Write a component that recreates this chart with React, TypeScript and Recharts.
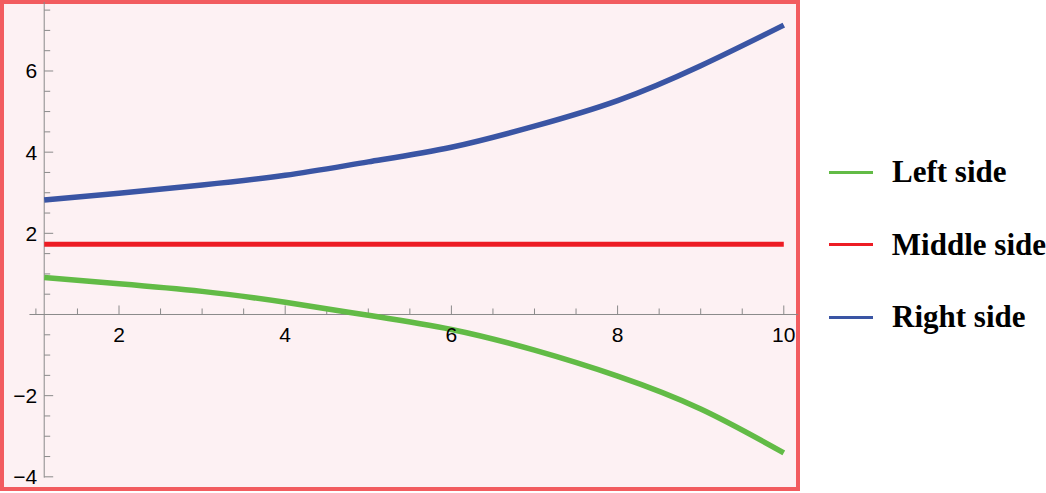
import {
  LineChart,
  Line,
  XAxis,
  YAxis,
  CartesianGrid,
  ReferenceArea,
  ReferenceLine,
  ReferenceDot,
  Legend,
} from "recharts";

// values
const xValues = [1.1, 2, 3, 4, 5, 6, 7, 8, 9, 10];
const leftSide = [0.91, 0.76, 0.57, 0.3, -0.02, -0.37, -0.88, -1.52, -2.33, -3.41];
const middleSide = [1.73, 1.73, 1.73, 1.73, 1.73, 1.73, 1.73, 1.73, 1.73, 1.73];
const rightSide = [2.82, 2.99, 3.19, 3.43, 3.76, 4.12, 4.64, 5.27, 6.13, 7.13];

const xMajorTicks = [2, 4, 6, 8, 10];
const yMajorTicks = [-4, -2, 2, 4, 6];
const xMinorTicks = Array.from({ length: 19 }, (_, i) => 1 + i * 0.5).filter(
  (v) => !xMajorTicks.includes(v)
);
const yMinorTicks = Array.from({ length: 24 }, (_, i) => -4 + i * 0.5).filter(
  (v) => v !== 0 && !yMajorTicks.includes(v)
);

const X_DOMAIN: [number, number] = [0.592, 10.171];
const Y_DOMAIN: [number, number] = [-4.3, 7.7];
const AXIS_X = 1.1;

const GREEN = "#62bb46";
const RED = "#ed1c24";
const BLUE = "#3a55a4";
const TICK = "#8a8a8a";
const FONT = "'Liberation Sans', Arial, sans-serif";

const data = xValues.map((x, i) => ({
  x,
  left: leftSide[i],
  middle: middleSide[i],
  right: rightSide[i],
}));

const fmt = (v: number) => (v < 0 ? `\u2212${Math.abs(v)}` : String(v));

type VB = { viewBox?: { x: number; y: number; width?: number; height?: number } };

const xLabel = (text: string) => (props: VB) => {
  const vb = props.viewBox;
  if (!vb) return null;
  return (
    <text x={vb.x + (vb.width ?? 0) / 2} y={vb.y + 28} textAnchor="middle" fontSize={21} fontFamily={FONT} fill="#000">
      {text}
    </text>
  );
};

const yLabel = (text: string) => (props: VB) => {
  const vb = props.viewBox;
  if (!vb) return null;
  return (
    <text x={vb.x - 7} y={vb.y + (vb.height ?? 0) / 2 + 7.5} textAnchor="end" fontSize={21} fontFamily={FONT} fill="#000">
      {text}
    </text>
  );
};

function LegendBox({ payload }: { payload?: Array<{ value: string; color: string }> }) {
  if (!payload) return null;
  return (
    <div>
      {payload.map((p) => (
        <div key={p.value} style={{ display: "flex", alignItems: "center", height: 72.5 }}>
          <div style={{ width: 44, height: 3, background: p.color, marginRight: 19 }} />
          <span
            style={{
              fontFamily: "'Liberation Serif', 'Times New Roman', serif",
              fontWeight: "bold",
              fontSize: 31,
              color: "#000",
              whiteSpace: "nowrap",
            }}
          >
            {p.value}
          </span>
        </div>
      ))}
    </div>
  );
}

export default function App() {
  return (
    <div style={{ position: "absolute", left: 0, top: 0, width: 1046, height: 493, background: "#fff" }}>
      <LineChart
        width={1046}
        height={493}
        data={data}
        margin={{ top: 2, right: 248, bottom: 4, left: 2 }}
      >
        <CartesianGrid horizontal={false} vertical={false} fill="#fdf1f3" />
        <XAxis type="number" dataKey="x" domain={X_DOMAIN} allowDataOverflow hide />
        <YAxis type="number" domain={Y_DOMAIN} allowDataOverflow hide />

        {/* axes crossing at y = 0 and x = 1.1 */}
        <ReferenceLine segment={[{ x: 0.922, y: 0 }, { x: X_DOMAIN[1], y: 0 }]} stroke={TICK} strokeWidth={1} />
        <ReferenceLine segment={[{ x: AXIS_X, y: -4.02 }, { x: AXIS_X, y: Y_DOMAIN[1] }]} stroke={TICK} strokeWidth={1} />

        {xMajorTicks.map((v) => (
          <ReferenceLine key={`xM${v}`} segment={[{ x: v, y: 0 }, { x: v, y: 0.222 }]} stroke={TICK} />
        ))}
        {xMinorTicks.map((v) => (
          <ReferenceLine key={`xm${v}`} segment={[{ x: v, y: 0 }, { x: v, y: 0.148 }]} stroke={TICK} />
        ))}
        {yMajorTicks.map((v) => (
          <ReferenceLine key={`yM${v}`} segment={[{ x: AXIS_X, y: v }, { x: AXIS_X + 0.108, y: v }]} stroke={TICK} />
        ))}
        {yMinorTicks.map((v) => (
          <ReferenceLine key={`ym${v}`} segment={[{ x: AXIS_X, y: v }, { x: AXIS_X + 0.072, y: v }]} stroke={TICK} />
        ))}

        {xMajorTicks.map((v) => (
          <ReferenceDot key={`xl${v}`} x={v} y={0} r={0} fill="none" stroke="none" label={xLabel(fmt(v))} />
        ))}
        {yMajorTicks.map((v) => (
          <ReferenceDot key={`yl${v}`} x={AXIS_X} y={v} r={0} fill="none" stroke="none" label={yLabel(fmt(v))} />
        ))}

        <Line type="natural" dataKey="left" name="Left side" stroke={GREEN} strokeWidth={5.5} dot={false} isAnimationActive={false} />
        <Line type="natural" dataKey="middle" name="Middle side" stroke={RED} strokeWidth={5} dot={false} isAnimationActive={false} />
        <Line type="natural" dataKey="right" name="Right side" stroke={BLUE} strokeWidth={5.5} dot={false} isAnimationActive={false} />

        {/* frame */}
        <ReferenceArea x1={X_DOMAIN[0]} x2={X_DOMAIN[1]} y1={Y_DOMAIN[0]} y2={Y_DOMAIN[1]} fill="none" fillOpacity={0} stroke="#f25c5f" strokeWidth={4} strokeOpacity={1} />

        <Legend
          layout="vertical"
          align="center"
          verticalAlign="middle"
          content={<LegendBox />}
          wrapperStyle={{ left: 829, top: 136, width: 217 }}
        />
      </LineChart>
    </div>
  );
}
